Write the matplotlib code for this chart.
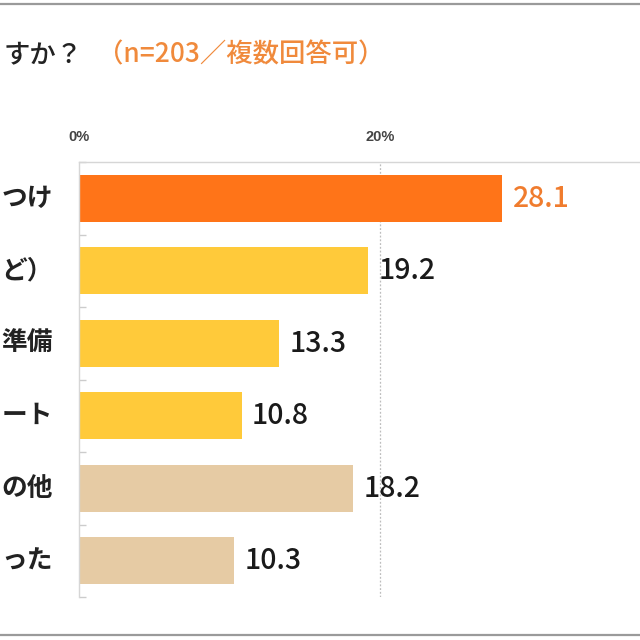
import matplotlib
matplotlib.use("Agg")
import matplotlib.pyplot as plt
from matplotlib.lines import Line2D

plt.rcParams["font.family"] = ["Noto Sans CJK JP", "DejaVu Sans"]

# visible (cropped) category labels, top to bottom
labels = ["つけ", "ど）", "準備", "ート", "の他", "った"]
values = [28.1, 19.2, 13.3, 10.8, 18.2, 10.3]
groups = ["top", "mid", "mid", "mid", "other", "other"]
ticks = [0, 20]
tick_labels = ["0%", "20%"]

COL = {"top": "#FF7418", "mid": "#FFCA3A", "other": "#E6CBA4"}
VAL_COL = {"top": "#F07C2E", "mid": "#1a1a1a", "other": "#1a1a1a"}

W = H = 640
fig = plt.figure(figsize=(6.4, 6.4), dpi=100)
ax = fig.add_axes([79 / W, 1 - 597 / H, 1 - 79 / W, (597 - 162) / H])

ys = list(range(len(values)))
ax.barh(ys, values, height=0.65, color=[COL[g] for g in groups], zorder=2)
ax.set_ylim(len(values) - 0.5, -0.5)
ax.set_xlim(0, (W - 79) / 15.05)

for y, v, g in zip(ys, values, groups):
    ax.text(v + 0.7, y, f"{v:.1f}", va="center", ha="left", fontsize=20.5,
            fontweight="medium", color=VAL_COL[g], zorder=3)

for y, lab in zip(ys, labels):
    ax.text(-1.75, y, lab, va="center", ha="right", fontsize=18.5, fontweight="bold",
            color="#222222")

ax.axvline(20, color="#bdbdbd", lw=0.9, ls=(0, (1.5, 1.5)), zorder=1)

ax.xaxis.tick_top()
ax.set_xticks(ticks)
ax.set_xticklabels(tick_labels, fontsize=10.5, fontweight="bold", color="#444444",
                   family=["Liberation Sans", "DejaVu Sans"])
ax.tick_params(axis="x", length=0, pad=13)
ax.set_yticks([])
ax.set_yticks([i - 0.5 for i in range(len(values) + 1)], minor=True)
ax.tick_params(axis="y", which="minor", direction="in", length=5, color="#cccccc", width=1)
for s in ["right", "bottom"]:
    ax.spines[s].set_visible(False)
for s in ["left", "top"]:
    ax.spines[s].set_color("#d6d6d6")
    ax.spines[s].set_linewidth(1)

fig.text(83 / W, 1 - 55 / H, "すか？", ha="right", va="center", fontsize=19,
         fontweight="medium", color="#222222")
fig.text(97 / W, 1 - 55 / H, "（n=203／複数回答可）", ha="left", va="center",
         fontsize=19, fontweight="medium", color="#F08A3C")

for yy in (4, 635):
    fig.add_artist(Line2D([0, 1], [1 - yy / H] * 2, color="#9a9a9a", lw=1.6,
                          transform=fig.transFigure))

fig.savefig("out.png", dpi=100)
